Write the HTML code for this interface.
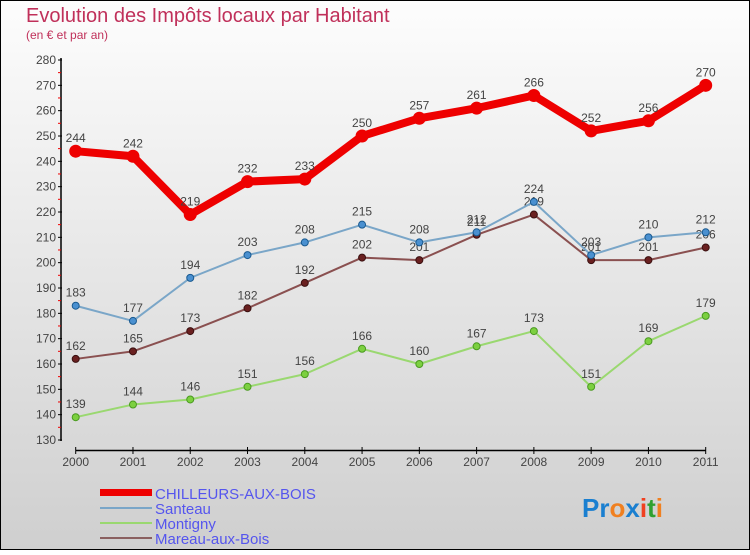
<!DOCTYPE html>
<html><head><meta charset="utf-8"><style>
body{margin:0;width:750px;height:550px;overflow:hidden;font-family:"Liberation Sans",sans-serif}
</style></head><body>
<svg width="750" height="550" xmlns="http://www.w3.org/2000/svg">
<defs><linearGradient id="bg" x1="0" y1="0" x2="0" y2="1"><stop offset="0" stop-color="#fdfdfd"/><stop offset="1" stop-color="#cfcfcf"/></linearGradient></defs>
<rect x="0.5" y="0.5" width="749" height="549" fill="url(#bg)" stroke="#000"/>
<text x="26" y="22" font-size="20" fill="#c0305a">Evolution des Impôts locaux par Habitant</text>
<text x="26" y="39" font-size="12" fill="#c0305a">(en € et par an)</text>
<g id="axes"></g><g id="series"></g>
<g>
<rect x="100" y="489" width="52" height="7" fill="#e00"/>
<text x="155" y="499" font-size="15" fill="#5555ee">CHILLEURS-AUX-BOIS</text>
<line x1="100" y1="508" x2="152" y2="508" stroke="#7aa6c8" stroke-width="2"/>
<text x="155" y="514" font-size="15" fill="#5555ee">Santeau</text>
<line x1="100" y1="523" x2="152" y2="523" stroke="#9ad870" stroke-width="2"/>
<text x="155" y="529" font-size="15" fill="#5555ee">Montigny</text>
<line x1="100" y1="538" x2="152" y2="538" stroke="#8a6060" stroke-width="2"/>
<text x="155" y="544" font-size="15" fill="#5555ee">Mareau-aux-Bois</text>
</g>
<text x="582" y="517" font-size="26" font-weight="bold"><tspan fill="#1a7fd0">Pr</tspan><tspan fill="#f08020">o</tspan><tspan fill="#1a7fd0">x</tspan><tspan fill="#f04020">i</tspan><tspan fill="#30a030">t</tspan><tspan fill="#f08020">i</tspan></text>
</svg>
<script>
const years=["2000","2001","2002","2003","2004","2005","2006","2007","2008","2009","2010","2011"];
const yTicks=[130,140,150,160,170,180,190,200,210,220,230,240,250,260,270,280];
const chilleurs=[244,242,219,232,233,250,257,261,266,252,256,270];
const santeau=[183,177,194,203,208,215,208,212,224,203,210,212];
const montigny=[139,144,146,151,156,166,160,167,173,151,169,179];
const mareau=[162,165,173,182,192,202,201,211,219,201,201,206];
const NS="http://www.w3.org/2000/svg";
const xs=i=>75.7+i*(705.7-75.7)/11;
const ys=v=>440-(v-130)*(380/150);
function mk(t,a,p){const e=document.createElementNS(NS,t);for(const k in a)e.setAttribute(k,a[k]);p.appendChild(e);return e;}
const ax=document.getElementById('axes'),sg=document.getElementById('series');
const yl=mk('line',{x1:61,y1:58,x2:61,y2:441,stroke:'#000','stroke-width':1.5},ax);


yTicks.forEach(v=>{const y=ys(v);mk('line',{x1:58,y1:y,x2:62,y2:y,stroke:'#000'},ax);
 if(v<280)mk('line',{x1:58,y1:y-12.7,x2:61,y2:y-12.7,stroke:'#e00'},ax);
 const t=mk('text',{x:56,y:y+4,'font-size':12,fill:'#444','text-anchor':'end'},ax);t.textContent=v;
 
 });
const xl=mk('line',{x1:75.7,y1:450.5,x2:705.7,y2:450.5,stroke:'#000','stroke-width':1.5},ax);


years.forEach((yr,i)=>{const x=xs(i);mk('line',{x1:x,y1:447,x2:x,y2:454,stroke:'#000'},ax);
 const t=mk('text',{x:x,y:466,'font-size':12,fill:'#444','text-anchor':'middle'},ax);t.textContent=yr;
 
 });
function draw(name,data,col,w,dot,dotCol,r){
 const g=mk('g',{},sg);
 
 
 mk('polyline',{points:data.map((v,i)=>xs(i)+','+ys(v)).join(' '),fill:'none',stroke:col,'stroke-width':w,'stroke-linejoin':'round'},g);
 data.forEach((v,i)=>{const c=mk('circle',{cx:xs(i),cy:ys(v),r:r,fill:dotCol,stroke:dot,'stroke-width':1},g);
  
  
  const t=mk('text',{x:xs(i),y:ys(v)-9,'font-size':12,fill:'#444','text-anchor':'middle'},g);t.textContent=v;
  
  });
}
draw('montigny',montigny,'#9ad870',2,'#4a9a20','#7cd040',3.5);
draw('mareau',mareau,'#8a5050',2,'#3a1010','#6a2020',3.5);
draw('santeau',santeau,'#7aa6c8',2,'#1a5a90','#4a90d0',3.5);
draw('chilleurs',chilleurs,'#ee0000',8,'#ee0000','#ee0000',6);
</script>
</body></html>
